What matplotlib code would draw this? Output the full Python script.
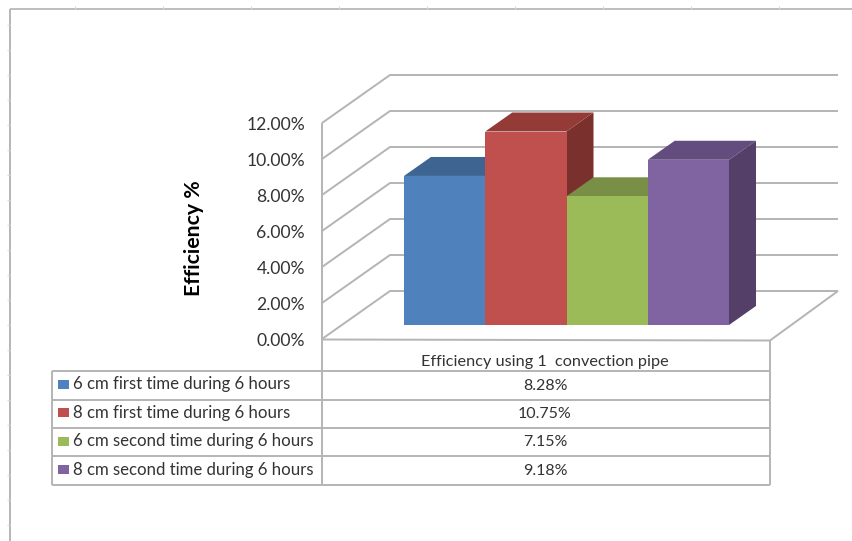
import matplotlib
matplotlib.use("Agg")
import matplotlib.pyplot as plt
from matplotlib.patches import Polygon

series = ["6 cm first time during 6 hours", "8 cm first time during 6 hours",
          "6 cm second time during 6 hours", "8 cm second time during 6 hours"]
values = [8.28, 10.75, 7.15, 9.18]
value_labels = ["8.28%", "10.75%", "7.15%", "9.18%"]
category = "Efficiency using 1  convection pipe"
y_ticks = [0, 2, 4, 6, 8, 10, 12]
y_tick_labels = ["0.00%", "2.00%", "4.00%", "6.00%", "8.00%", "10.00%", "12.00%"]
front_colors = ["#4F81BD", "#C0504D", "#9BBB59", "#8064A2"]
top_colors = ["#3E6591", "#943A37", "#788F45", "#634C7E"]
side_colors = ["#345578", "#7A302D", "#637638", "#533F68"]

W, H = 853, 541
BASE_PX, PX_PER_PCT = 325.0, 18.0
BAR_X0, BAR_W = 404.0, 81.25
GRID = "#b4b4b4"

fig = plt.figure(figsize=(W / 100, H / 100), dpi=100, facecolor="white")
ax = fig.add_axes([0, 0, 1, 1])
ax.set_xlim((0 - BAR_X0) / BAR_W, (W - BAR_X0) / BAR_W)
ax.set_ylim((BASE_PX - H) / PX_PER_PCT, BASE_PX / PX_PER_PCT)
ax.axis("off")
plt.rcParams["font.family"] = ["Lato", "DejaVu Sans"]


def X(px):
    return (px - BAR_X0) / BAR_W


def Y(py):
    return (BASE_PX - py) / PX_PER_PCT


def line(xs, ys, color=GRID, lw=1.4, z=1):
    ax.plot([X(v) for v in xs], [Y(v) for v in ys], color=color, lw=lw, zorder=z,
            solid_capstyle="butt")


# outer worksheet frame and faint ruler ticks
line([10, 10], [541, 9], "#b0b0b0", 1.3)
line([10, 853], [9, 9], "#b8b8b8", 1.3)
for px in range(75, 853, 88):
    line([px, px], [6, 9], "#d8d8d8", 0.8)
for py in range(25, 541, 25):
    line([7, 10], [py, py], "#d8d8d8", 0.8)

# 3-D walls driven by the axis ticks
FRONT_ZERO = 339.0
WALL_DX, WALL_DY = 68, -48
for t in y_ticks:
    front = FRONT_ZERO - t * PX_PER_PCT
    line([322, 322 + WALL_DX, 838],
         [front, front + WALL_DY, front + WALL_DY])
    ax.text(X(305), Y(front + 2), y_tick_labels[y_ticks.index(t)], ha="right", va="center",
            fontsize=12.6, color="#333333")
line([322, 322], [FRONT_ZERO - 12 * PX_PER_PCT, 485])
line([322, 770], [339.5, 340.5])
line([770, 838], [340.5, FRONT_ZERO + WALL_DY])

# 3-D bars
DX, DY = 27 / BAR_W, 19 / PX_PER_PCT
for i, v in enumerate(values):
    xl, xr = i, i + 1
    ax.add_patch(Polygon([(xr, 0), (xr + DX, DY), (xr + DX, v + DY), (xr, v)],
                         fc=side_colors[i], ec="none", zorder=2 + i * 0.1))
    ax.add_patch(Polygon([(xl, v), (xl + DX, v + DY), (xr + DX, v + DY), (xr, v)],
                         fc=top_colors[i], ec="none", zorder=2 + i * 0.1))
for i, v in enumerate(values):
    ax.bar(i, v, width=1, align="edge", color=front_colors[i], zorder=3)

# axis title
ax.text(X(194), Y(238.5), "Efficiency %", rotation=90, ha="center", va="center",
        fontsize=15.3, fontweight="bold", color="black")

# data table
rows = [371, 399.5, 428, 456, 485]
for r in rows:
    line([52, 770], [r, r], z=1)
line([52, 52], [371, 485])
line([770, 770], [340.5, 485])
ax.text(X(545), Y(362), category, ha="center", va="center", fontsize=11.7, color="#333333")
for i, name in enumerate(series):
    yc = (rows[i] + rows[i + 1]) / 2 - 1
    ax.add_patch(Polygon([(X(58), Y(yc - 4.5)), (X(69), Y(yc - 4.5)),
                          (X(69), Y(yc + 4.5)), (X(58), Y(yc + 4.5))],
                         fc=front_colors[i], ec="none", zorder=3))
    ax.text(X(73), Y(yc), name, ha="left", va="center", fontsize=12.1, color="#333333")
    ax.text(X(545), Y(yc + 1.5), value_labels[i], ha="center", va="center",
            fontsize=11.5, color="#333333")

fig.savefig("out.png", dpi=100, facecolor="white")
